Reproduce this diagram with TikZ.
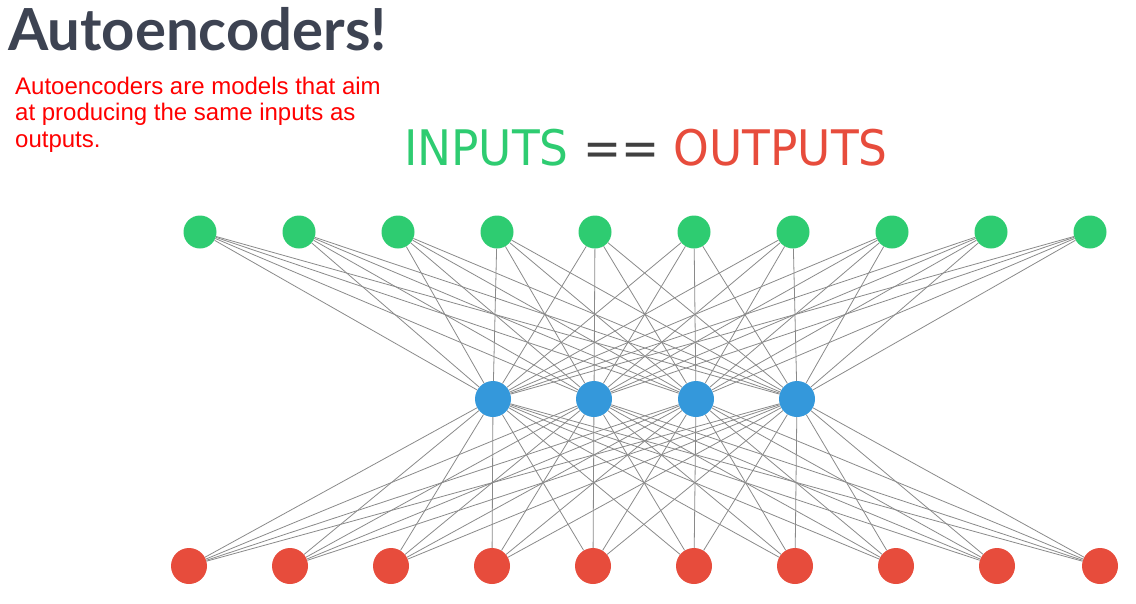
\documentclass[tikz,border=0pt]{standalone}
\usepackage{fontspec}
\setmainfont{Liberation Sans}
\newfontfamily\latofont{Lato}
\newfontfamily\dejavufont[FakeStretch=0.927]{DejaVu Sans}
\definecolor{ingreen}{HTML}{2ECC71}
\definecolor{outred}{HTML}{E74C3C}
\definecolor{codeblue}{HTML}{3498DB}
\definecolor{titleslate}{HTML}{3D4352}
\definecolor{edgegray}{HTML}{8A8A8A}
\begin{document}
\begin{tikzpicture}
[x=1pt,y=-1pt,
  innode/.style={shape=circle,inner sep=0pt,minimum size=33pt,fill=ingreen},%
  codenode/.style={shape=circle,inner sep=0pt,minimum size=36pt,fill=codeblue},%
  outnode/.style={shape=circle,inner sep=0pt,minimum size=36pt,fill=outred},%
  linedecorate/.style={-,draw=edgegray,line width=0.8pt}]
\useasboundingbox (0,0) rectangle (1136,603);
%% texts
\node (title) at (8,50) [anchor=base west,inner sep=0pt,text=titleslate,
  font=\fontsize{58}{66}\selectfont\latofont\bfseries] {Autoencoders!};
\node (intro) at (15,147) [anchor=base west,inner sep=0pt,align=left,text=red,
  font=\fontsize{24}{26.5}\selectfont]
  {Autoencoders are models that aim\\
   at producing the same inputs as\\ outputs.};
\node (motto) at (404,165) [anchor=base west,inner sep=0pt,
  font=\fontsize{49}{56}\selectfont\dejavufont]
  {\textcolor{ingreen}{INPUTS} \textcolor{black!75}{==} \textcolor{outred}{OUTPUTS}};
%% nodes or vertices
\foreach \i/\x in {1/200, 2/299, 3/398, 4/497, 5/595, 6/694, 7/793, 8/892, 9/991, 10/1090}
{
  \node (in\i) at (\x,232) [innode] {};
}
\foreach \j/\x in {1/493, 2/594, 3/696, 4/797}
{
  \node (code\j) at (\x,399) [codenode] {};
}
\foreach \k/\x in {1/189, 2/290, 3/391, 4/492, 5/593, 6/694, 7/795, 8/896, 9/997, 10/1100}
{
  \node (out\k) at (\x,566) [outnode] {};
}
%% edges or lines
\path
\foreach \i in {1,...,10} {
  \foreach \j in {1,...,4} {
    (in\i) edge[linedecorate] (code\j)
  }
};
\path
\foreach \j in {1,...,4} {
  \foreach \k in {1,...,10} {
    (code\j) edge[linedecorate] (out\k)
  }
};
\end{tikzpicture}
\end{document}
